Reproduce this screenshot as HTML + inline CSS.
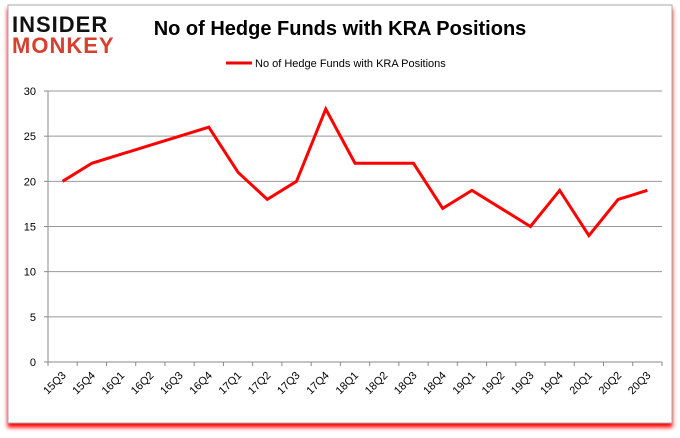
<!DOCTYPE html>
<html><head><meta charset="utf-8"><style>
body{margin:0;background:#fff;width:680px;height:433px;overflow:hidden;font-family:"Liberation Sans",sans-serif}
</style></head><body>
<svg width="680" height="433" xmlns="http://www.w3.org/2000/svg">
<rect x="8" y="5" width="664" height="418" fill="#fff" stroke="#aaa" style="filter:drop-shadow(0 4px 2px #f00)"/>
<g font-family="Liberation Sans, sans-serif" font-weight="bold">
<text x="12" y="32" font-size="22" fill="#111" letter-spacing="1">INSIDER</text>
<text x="12" y="53" font-size="22" fill="#d6402f" letter-spacing="1">MONKEY</text>
</g>
<text x="340" y="35" text-anchor="middle" font-size="20" font-weight="bold" fill="#000">No of Hedge Funds with KRA Positions</text>
<g>
<line x1="226" y1="63" x2="252" y2="63" stroke="#e00" stroke-width="3"/>
<text x="255" y="67" font-size="11" fill="#000">No of Hedge Funds with KRA Positions</text>
</g>
<g id="grid"></g><g id="axes"></g><g id="series"></g>
</svg>
<script>
const categories=["15Q3","15Q4","16Q1","16Q2","16Q3","16Q4","17Q1","17Q2","17Q3","17Q4","18Q1","18Q2","18Q3","18Q4","19Q1","19Q2","19Q3","19Q4","20Q1","20Q2","20Q3"];
const values=[20,22,23,24,25,26,21,18,20,28,22,22,22,17,19,17,15,19,14,18,19];
const yTicks=[0,5,10,15,20,25,30];
const NS="http://www.w3.org/2000/svg";
const L=48,R=662,T=91,B=362,yMax=30;
const bw=(R-L)/categories.length;
const xs=i=>L+bw*(i+0.5);
const ys=v=>B-(v/yMax)*(B-T);
function mk(t,a,p){const e=document.createElementNS(NS,t);for(const k in a)e.setAttribute(k,a[k]);p.appendChild(e);return e;}
const grid=document.getElementById('grid'),axes=document.getElementById('axes'),series=document.getElementById('series');
yTicks.forEach(v=>{
 const y=ys(v);
 const g=mk('line',{x1:L,x2:R,y1:y,y2:y,stroke:v===0?'#888':'#999','stroke-width':1},grid);
 
 
 mk('line',{x1:L-4,x2:L,y1:y,y2:y,stroke:'#888'},axes);
 const t=mk('text',{x:L-12,y:y+4,'text-anchor':'end','font-size':11,fill:'#000'},axes);
 t.textContent=v;
 
 
});
mk('line',{x1:L,x2:L,y1:T,y2:B,stroke:'#888'},axes);
for(let i=0;i<=categories.length;i++){const x=L+bw*i;mk('line',{x1:x,x2:x,y1:B,y2:B+4,stroke:'#888'},axes);}
categories.forEach((c,i)=>{
 const x=xs(i)+4,y=B+14;
 const t=mk('text',{x:x,y:y,'text-anchor':'end','font-size':11,fill:'#000',transform:`rotate(-45 ${x} ${y})`},axes);
 t.textContent=c;
 
 
});
const p=mk('polyline',{points:values.map((v,i)=>xs(i)+','+ys(v)).join(' '),fill:'none',stroke:'#f00','stroke-width':3,'stroke-linejoin':'miter'},series);


</script>
</body></html>
